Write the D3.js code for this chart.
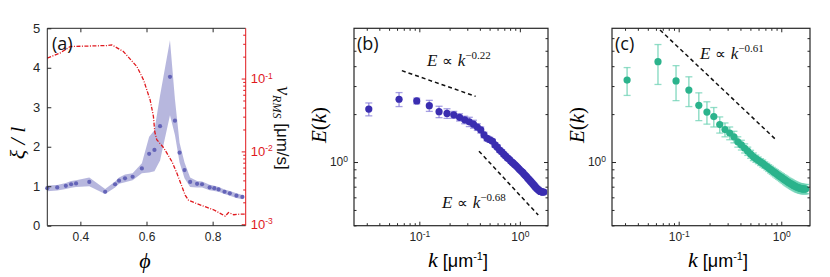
<!DOCTYPE html>
<html>
<head>
<meta charset="utf-8">
<script src="https://cdn.jsdelivr.net/npm/d3@7"></script>
<style>
  body { margin: 0; background: #fff; }
</style>
</head>
<body>
<div id="chart"></div>
<script>
// ---- panel (a) data ----
let phi = [0.300, 0.330, 0.356, 0.372, 0.387, 0.427, 0.475, 0.505, 0.517, 0.535, 0.558, 0.586, 0.608, 0.624,
  0.641, 0.671, 0.686, 0.700, 0.715, 0.732, 0.753, 0.768, 0.791, 0.805, 0.818, 0.836, 0.852, 0.872, 0.890];
let xiMean = [0.95, 0.97, 1.01, 1.05, 1.07, 1.11, 0.86, 1.05, 1.14, 1.20, 1.24, 1.45, 1.82, 1.92,
  2.52, 3.77, 2.66, 1.85, 1.41, 1.11, 1.06, 1.05, 0.97, 0.95, 0.92, 0.86, 0.82, 0.76, 0.73];
let xiLow = [0.87, 0.89, 0.93, 0.96, 0.98, 1.00, 0.80, 0.97, 1.06, 1.10, 1.15, 1.33, 1.35, 1.38,
  1.65, 2.80, 2.30, 1.60, 1.20, 0.98, 0.97, 0.97, 0.90, 0.88, 0.86, 0.80, 0.76, 0.70, 0.67];
let xiHigh = [1.02, 1.03, 1.08, 1.13, 1.15, 1.22, 0.93, 1.12, 1.22, 1.30, 1.33, 1.58, 2.25, 2.42,
  3.30, 4.70, 3.20, 2.10, 1.60, 1.22, 1.13, 1.12, 1.04, 1.01, 0.98, 0.92, 0.88, 0.82, 0.78];

let phiV = [0.300, 0.338, 0.369, 0.480, 0.495, 0.530, 0.571, 0.591, 0.611, 0.621, 0.625, 0.631, 0.652,
  0.677, 0.692, 0.707, 0.717, 0.727, 0.753, 0.783, 0.803, 0.823, 0.838, 0.848, 0.864, 0.884, 0.900];
let vRms = [0.191, 0.223, 0.275, 0.284, 0.290, 0.235, 0.146, 0.0959, 0.0509, 0.0301, 0.0186, 0.0145, 0.0112,
  0.00724, 0.00501, 0.00331, 0.00251, 0.00214, 0.00191, 0.0017, 0.00158, 0.00141, 0.00129, 0.00145,
  0.00135, 0.00138, 0.00138];

// ---- panels (b), (c) data: k_n = n * 2pi / 200 ----
let kVals = d3.range(1, 56).map(function (n) { return n * 2 * Math.PI / 200; });
let eB = [2.15, 2.48, 2.42, 2.26, 2.07, 2.02, 1.98, 1.91, 1.84, 1.79, 1.73, 1.66, 1.59, 1.48, 1.41, 1.38,
  1.35, 1.28, 1.24, 1.19, 1.16, 1.12, 1.09, 1.06, 1.04, 1.01, 0.99, 0.97, 0.95, 0.93, 0.91, 0.89, 0.875,
  0.86, 0.84, 0.825, 0.81, 0.793, 0.78, 0.766, 0.753, 0.74, 0.727, 0.715, 0.703, 0.692, 0.682, 0.674,
  0.666, 0.659, 0.654, 0.65, 0.648, 0.648, 0.648];
let errB = [0.2, 0.25, 0.1, 0.18, 0.17, 0.14, 0.1, 0.1, 0.1, 0.12, 0.1, 0.08, 0.07, 0.06, 0.05, 0.05,
  0.04, 0.04, 0.04, 0.035, 0.035, 0.03, 0.03, 0.03, 0.025, 0.025, 0.025, 0.02, 0.02, 0.02, 0.02, 0.02,
  0.02, 0.02, 0.02, 0.02, 0.02, 0.02, 0.02, 0.02, 0.02, 0.02, 0.02, 0.02, 0.02, 0.02, 0.02, 0.02, 0.02,
  0.02, 0.02, 0.02, 0.02, 0.02, 0.02];
let eC = [3.27, 4.27, 3.23, 2.83, 2.27, 2.06, 1.93, 1.72, 1.60, 1.52, 1.44, 1.34, 1.28, 1.22, 1.17, 1.12,
  1.08, 1.05, 1.025, 1.0, 0.98, 0.957, 0.937, 0.917, 0.898, 0.881, 0.865, 0.851, 0.836, 0.823, 0.811,
  0.8, 0.788, 0.778, 0.767, 0.757, 0.748, 0.74, 0.733, 0.726, 0.719, 0.713, 0.707, 0.702, 0.697, 0.692,
  0.689, 0.686, 0.683, 0.681, 0.679, 0.677, 0.677, 0.677, 0.677];
let errC = [0.65, 1.2, 0.8, 0.6, 0.45, 0.33, 0.27, 0.2, 0.16, 0.14, 0.12, 0.1, 0.09, 0.08, 0.07, 0.065,
  0.06, 0.055, 0.05, 0.05, 0.05, 0.045, 0.045, 0.045, 0.045, 0.045, 0.045, 0.045, 0.045, 0.045, 0.045,
  0.045, 0.045, 0.045, 0.045, 0.045, 0.045, 0.045, 0.045, 0.045, 0.045, 0.045, 0.045, 0.045, 0.045,
  0.045, 0.045, 0.045, 0.045, 0.045, 0.045, 0.045, 0.045, 0.045, 0.045];

// power-law guide lines: [kStart, kEnd, E at kStart, exponent, label]
let guidesB = [[0.067, 0.363, 3.75, -0.22, "0.22"], [0.392, 1.524, 1.17, -0.68, "0.68"]];
let guidesC = [[0.0658, 0.90, 6.75, -0.61, "0.61"]];

let xiTicks = [0, 1, 2, 3, 4, 5];
let phiTicks = [0.4, 0.6, 0.8];

let W = 830, H = 277;
let yTop = 28.3, yBottom = 225.7;
let axisColor = "#262626";
let serif = "Liberation Serif, DejaVu Serif, serif";

let svg = d3.select("#chart").append("svg").attr("width", W).attr("height", H)
  .attr("font-family", "Liberation Sans, Arial, sans-serif");

function powLabel(sel, color) {
  sel.each(function (d) {
    let t = d3.select(this);
    let l = Math.log10(d);
    let e = Math.round(l);
    t.text("");
    if (Math.abs(l - e) > 1e-6) return;
    t.attr("fill", color);
    t.append("tspan").text("10");
    t.append("tspan").attr("dy", "-0.55em").attr("font-size", "8.5px").text(e);
  });
}

function styleAxis(g, color) {
  g.select(".domain").remove();
  g.attr("font-family", null);
  g.selectAll("line").attr("stroke", color);
  g.selectAll("text").attr("fill", color).attr("font-size", "12px");
}

function drawPanelA() {
  let x = d3.scaleLinear().domain([0.3, 0.9]).range([47.3, 245.7]);
  let y = d3.scaleLinear().domain([0, 5]).range([yBottom, yTop]);
  let yr = d3.scaleLog().domain([Math.pow(10, -3.02), Math.pow(10, -0.31)]).range([yBottom, yTop]);
  let g = svg.append("g");

  // band
  let area = d3.area()
    .x(function (d, i) { return x(phi[i]); })
    .y0(function (d, i) { return y(xiLow[i]); })
    .y1(function (d, i) { return y(xiHigh[i]); });
  g.append("path").datum(phi).attr("d", area).attr("fill", "#b3b3dc").attr("opacity", 0.95);

  // red line
  let line = d3.line()
    .x(function (d, i) { return x(phiV[i]); })
    .y(function (d, i) { return yr(vRms[i]); });
  g.append("path").datum(phiV).attr("d", line).attr("fill", "none")
    .attr("stroke", "#e0191e").attr("stroke-width", 1.3).attr("stroke-dasharray", "4,1.5,1,1.5");

  g.selectAll("circle").data(phi).enter().append("circle")
    .attr("cx", function (d) { return x(d); })
    .attr("cy", function (d, i) { return y(xiMean[i]); })
    .attr("r", 2.1).attr("fill", "#6464b8");

  // axes
  let gb = g.append("g").attr("transform", "translate(0," + yBottom + ")")
    .call(d3.axisBottom(x).tickValues(phiTicks).tickSizeInner(-4).tickSizeOuter(0).tickPadding(7)
      .tickFormat(d3.format(".1f")));
  styleAxis(gb, axisColor);
  let gt = g.append("g").attr("transform", "translate(0," + yTop + ")")
    .call(d3.axisTop(x).tickValues(phiTicks).tickSizeInner(-4).tickSizeOuter(0).tickFormat(""));
  styleAxis(gt, axisColor);
  let gl = g.append("g").attr("transform", "translate(47.3,0)")
    .call(d3.axisLeft(y).tickValues(xiTicks).tickSizeInner(-4).tickSizeOuter(0).tickPadding(7)
      .tickFormat(d3.format("d")));
  styleAxis(gl, axisColor);
  gl.selectAll("text").attr("font-size", "13px");
  let gr = g.append("g").attr("transform", "translate(245.7,0)")
    .call(d3.axisRight(yr).tickSizeOuter(0).tickPadding(5)
      .tickSizeInner(-3));
  styleAxis(gr, "#e0191e");
  gr.selectAll("line").attr("x2", function (d) {
    let l = Math.log10(d);
    return Math.abs(l - Math.round(l)) < 1e-6 ? -4 : -2.5;
  });
  gr.selectAll("text").call(powLabel, "#e0191e").attr("font-size", "13px");

  g.append("line").attr("x1", 47.3).attr("x2", 245.7).attr("y1", yTop).attr("y2", yTop).attr("stroke", axisColor);
  g.append("line").attr("x1", 47.3).attr("x2", 245.7).attr("y1", yBottom).attr("y2", yBottom).attr("stroke", axisColor);
  g.append("line").attr("x1", 47.3).attr("x2", 47.3).attr("y1", yTop).attr("y2", yBottom).attr("stroke", axisColor);
  g.append("line").attr("x1", 245.7).attr("x2", 245.7).attr("y1", yTop).attr("y2", yBottom).attr("stroke", "#e0191e");

  g.append("text").attr("x", 52).attr("y", 50).attr("font-size", "18px")
    .attr("font-family", "Open Sans, sans-serif").attr("fill", "#111").text("(a)");

  g.append("text").attr("x", 145).attr("y", 268).attr("text-anchor", "middle")
    .attr("font-size", "22px").attr("font-style", "italic").attr("font-family", serif).text("ϕ");

  let yl = g.append("text").attr("transform", "translate(25,143) rotate(-90)").attr("text-anchor", "middle")
    .attr("font-size", "22px").attr("font-style", "italic").attr("font-family", serif);
  yl.text("ξ / l");

  let vr = g.append("text").attr("transform", "translate(277,128) rotate(90)").attr("text-anchor", "middle")
    .attr("font-size", "17px").attr("fill", "#111");
  vr.append("tspan").attr("font-family", serif).attr("font-style", "italic")
    .attr("font-size", "20px").text("v");
  vr.append("tspan").attr("font-family", serif).attr("font-style", "italic")
    .attr("font-size", "12px").attr("dy", "4").text("RMS");
  vr.append("tspan").attr("dy", "-4").text(" [μm/s]");
}

function drawSpectrum(x0, x1, E, err, guides, dotColor, barColor, tag) {
  let x = d3.scaleLog().domain([Math.pow(10, -1.65), Math.pow(10, 0.28)]).range([x0, x1]);
  let y = d3.scaleLog().domain([Math.pow(10, -0.4), Math.pow(10, 0.84)]).range([yBottom, yTop]);
  let g = svg.append("g");

  // guide lines
  guides.forEach(function (gd) {
    let pts = [gd[0], gd[1]].map(function (k) { return [k, gd[2] * Math.pow(k / gd[0], gd[3])]; });
    g.append("path").datum(pts)
      .attr("d", d3.line().x(function (d) { return x(d[0]); }).y(function (d) { return y(d[1]); }))
      .attr("stroke", "#111").attr("stroke-width", 1.5).attr("stroke-dasharray", "4,3").attr("fill", "none");
  });

  // error bars
  let eb = g.selectAll(".eb").data(kVals).enter().append("g");
  eb.append("line")
    .attr("x1", function (d) { return x(d); }).attr("x2", function (d) { return x(d); })
    .attr("y1", function (d, i) { return y(E[i] + err[i]); })
    .attr("y2", function (d, i) { return y(E[i] - err[i]); })
    .attr("stroke", barColor).attr("stroke-width", 1.5);
  [1, -1].forEach(function (s) {
    eb.append("line")
      .attr("x1", function (d) { return x(d) - 3.5; }).attr("x2", function (d) { return x(d) + 3.5; })
      .attr("y1", function (d, i) { return y(E[i] + s * err[i]); })
      .attr("y2", function (d, i) { return y(E[i] + s * err[i]); })
      .attr("stroke", barColor).attr("stroke-width", 1.3);
  });

  g.selectAll("circle").data(kVals).enter().append("circle")
    .attr("cx", function (d) { return x(d); })
    .attr("cy", function (d, i) { return y(E[i]); })
    .attr("r", 3.6).attr("fill", dotColor);

  // axes (ticks inside, all four sides)
  function minor(d) {
    let l = Math.log10(d);
    return Math.abs(l - Math.round(l)) > 1e-6;
  }
  let gb = g.append("g").attr("transform", "translate(0," + yBottom + ")")
    .call(d3.axisBottom(x).tickSizeInner(-4).tickSizeOuter(0).tickPadding(7));
  styleAxis(gb, axisColor);
  gb.selectAll("text").call(powLabel, "#262626");
  let gt = g.append("g").attr("transform", "translate(0," + yTop + ")")
    .call(d3.axisTop(x).tickSizeInner(-4).tickSizeOuter(0).tickFormat(""));
  styleAxis(gt, axisColor);
  let gl = g.append("g").attr("transform", "translate(" + x0 + ",0)")
    .call(d3.axisLeft(y).tickSizeInner(-4).tickSizeOuter(0).tickPadding(6));
  styleAxis(gl, axisColor);
  gl.selectAll("text").call(powLabel, "#262626");
  let gr = g.append("g").attr("transform", "translate(" + x1 + ",0)")
    .call(d3.axisRight(y).tickSizeInner(-4).tickSizeOuter(0).tickFormat(""));
  styleAxis(gr, axisColor);
  [gb, gt].forEach(function (a) {
    a.selectAll("line").attr("y2", function (d) { return (a === gb ? -1 : 1) * (minor(d) ? 2.5 : 4); });
  });
  [gl, gr].forEach(function (a) {
    a.selectAll("line").attr("x2", function (d) { return (a === gl ? 1 : -1) * (minor(d) ? 2.5 : 4); });
  });
  g.append("rect").attr("x", x0).attr("y", yTop).attr("width", x1 - x0).attr("height", yBottom - yTop)
    .attr("fill", "none").attr("stroke", axisColor).attr("stroke-width", 1.2);

  g.append("text").attr("x", x0 + 3).attr("y", 50).attr("font-size", "18px")
    .attr("font-family", "Open Sans, sans-serif").attr("fill", "#111").text(tag);

  let yl = g.append("text").attr("transform", "translate(" + (x0 - 28) + ",125) rotate(-90)")
    .attr("text-anchor", "middle").attr("font-size", "21px").attr("font-family", serif);
  yl.append("tspan").attr("font-style", "italic").text("E");
  yl.append("tspan").text("(");
  yl.append("tspan").attr("font-style", "italic").text("k");
  yl.append("tspan").text(")");

  let xl = g.append("text").attr("x", (x0 + x1) / 2 + 7).attr("y", 267).attr("text-anchor", "middle")
    .attr("font-size", "18px");
  xl.append("tspan").attr("font-style", "italic").attr("font-family", serif)
    .attr("font-size", "22px").text("k");
  xl.append("tspan").text(" [μm");
  xl.append("tspan").attr("dy", "-7").attr("font-size", "11px").text("-1");
  xl.append("tspan").attr("dy", "7").text("]");
}

function guideLabel(px, py, expo) {
  let t = svg.append("text").attr("x", px).attr("y", py).attr("font-size", "17px")
    .attr("font-family", serif).attr("fill", "#111");
  t.append("tspan").attr("font-style", "italic").text("E");
  t.append("tspan").attr("font-family", "DejaVu Sans, sans-serif").attr("font-size", "15px").text(" ∝ ");
  t.append("tspan").attr("font-style", "italic").text("k");
  t.append("tspan").attr("dy", "-7").attr("font-size", "11px").text("−" + expo);
}

drawPanelA();
drawSpectrum(354, 548, eB, errB, guidesB, "#3a2db0", "rgba(130,120,215,0.7)", "(b)");
drawSpectrum(612, 810, eC, errC, guidesC, "#2bb38c", "rgba(110,210,180,0.75)", "(c)");
guideLabel(427, 66, guidesB[0][4]);
guideLabel(442, 208, guidesB[1][4]);
guideLabel(700, 59, guidesC[0][4]);
</script>
</body>
</html>
